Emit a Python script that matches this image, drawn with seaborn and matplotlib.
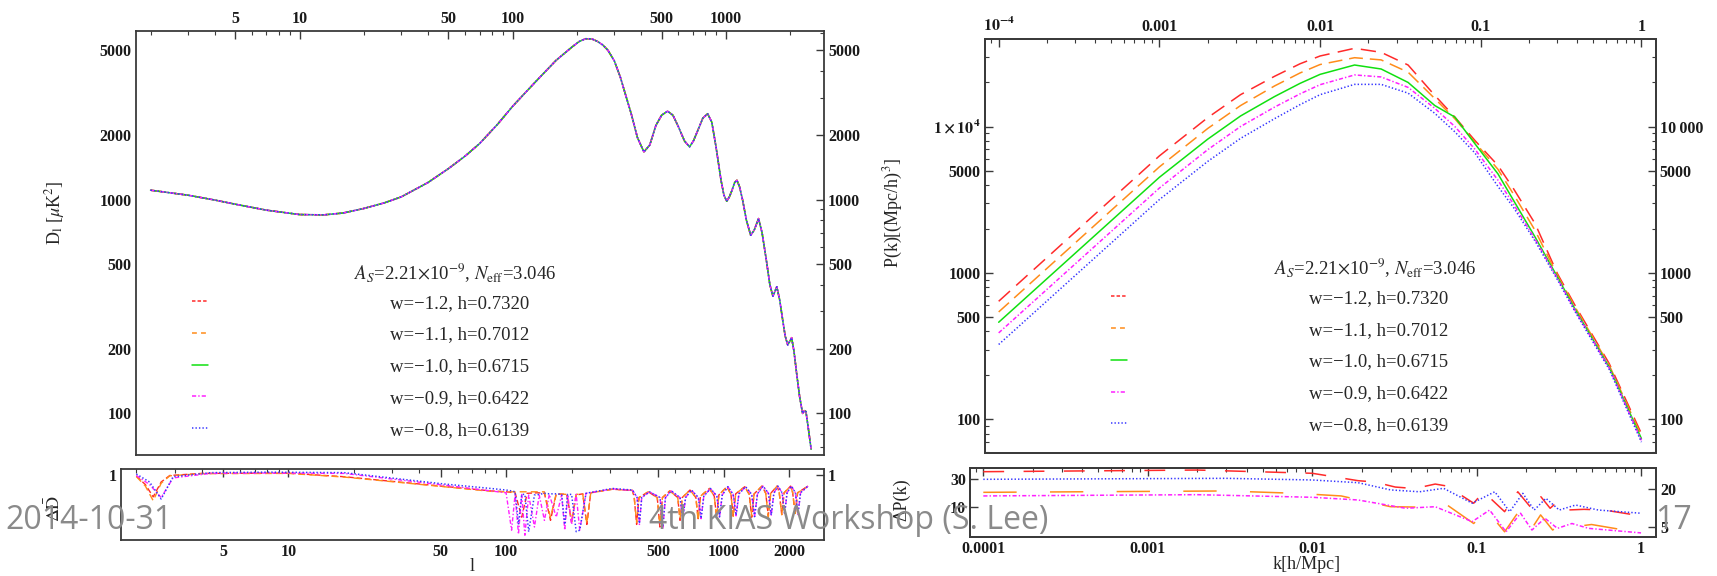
import matplotlib
matplotlib.use("Agg")
import matplotlib.pyplot as plt
import seaborn as sns
from matplotlib.lines import Line2D
from matplotlib.ticker import LogLocator, NullFormatter, NullLocator

sns.set_theme(style="white")
plt.rcParams['font.family'] = ['Liberation Serif', 'DejaVu Serif']
plt.rcParams['mathtext.fontset'] = 'stix'
plt.rcParams['lines.scale_dashes'] = False

# ---------------- data ----------------
series_labels = ["w=\u22121.2, h=0.7320", "w=\u22121.1, h=0.7012", "w=\u22121.0, h=0.6715",
                 "w=\u22120.9, h=0.6422", "w=\u22120.8, h=0.6139"]
series_colors = ["#ff2a2a", "#ff8c1a", "#10e010", "#ff20ff", "#3535ff"]

# CMB TT spectrum (all five models overlap)
ell_cmb = [2, 3, 4, 5, 7, 10, 13, 16, 20, 25, 30, 40, 50, 60, 70, 85, 100, 115, 130, 160,
           190, 205, 220, 235, 250, 265, 280, 300, 320, 340, 360, 385, 413, 440, 470, 500,
           533, 565, 600, 640, 676, 705, 740, 780, 822, 860, 900, 950, 980, 1010, 1040, 1070,
           1100, 1128, 1160, 1200, 1250, 1309, 1360, 1425, 1480, 1550, 1610, 1664, 1700,
           1735, 1790, 1850, 1900, 1953, 2000, 2037, 2090, 2150, 2220, 2293, 2340, 2378,
           2440, 2515]
dl_cmb = [1106, 1048, 995, 951, 892, 851, 848, 865, 908, 965, 1029, 1200, 1396, 1600, 1828,
          2250, 2730, 3170, 3610, 4480, 5170, 5480, 5650, 5640, 5490, 5280, 4990, 4450, 3740,
          3050, 2520, 1950, 1670, 1800, 2220, 2480, 2590, 2480, 2185, 1880, 1763, 1880, 2110,
          2400, 2520, 2300, 1763, 1231, 1050, 982, 1030, 1106, 1200, 1231, 1150, 993, 800,
          681, 720, 815, 700, 521, 400, 353, 372, 391, 340, 273, 230, 209, 218, 226, 195,
          154, 120, 100, 103, 102, 85, 68]

# relative CMB differences (lower left panel)
ell_ratio_ro = [2, 2.2, 2.39, 2.6, 2.85, 4, 10, 18, 50, 85, 100, 110, 118, 125, 140, 150, 160,
                170, 190, 200, 210, 225, 235, 245, 308, 381, 388, 398, 408, 450, 495, 509, 523,
                565, 615, 630, 645, 700, 745, 763, 782, 860, 905, 928, 950, 1035, 1080, 1106,
                1135, 1250, 1310, 1345, 1380, 1500, 1560, 1603, 1645, 1760, 1800, 1848, 1895,
                2030, 2075, 2130, 2185, 2440]
ratio_red = [0.91, 0.5, 0.21, 0.6, 0.95, 1.1, 1.12, 0.87, 0.45, 0.32, 0.30, 0.28, 0.05, 0.27,
             0.28, 0.27, 0.04, 0.26, 0.25, 0.035, 0.24, 0.26, 0.03, 0.28, 0.36, 0.33, 0.2,
             0.03, 0.2, 0.30, 0.2, 0.025, 0.2, 0.32, 0.2, 0.04, 0.2, 0.34, 0.2, 0.045, 0.22,
             0.38, 0.22, 0.05, 0.24, 0.43, 0.25, 0.055, 0.26, 0.43, 0.25, 0.05, 0.26, 0.45,
             0.27, 0.055, 0.27, 0.45, 0.28, 0.06, 0.28, 0.45, 0.28, 0.06, 0.28, 0.45]
ratio_orange = [0.88, 0.45, 0.16, 0.55, 0.93, 1.08, 1.1, 0.85, 0.44, 0.31, 0.30, 0.30, 0.30,
                0.30, 0.30, 0.30, 0.05, 0.26, 0.25, 0.04, 0.25, 0.26, 0.032, 0.28, 0.36, 0.33,
                0.2, 0.035, 0.2, 0.30, 0.2, 0.03, 0.2, 0.32, 0.2, 0.045, 0.2, 0.34, 0.2, 0.04,
                0.22, 0.38, 0.22, 0.05, 0.24, 0.43, 0.25, 0.05, 0.26, 0.43, 0.25, 0.055, 0.26,
                0.45, 0.27, 0.05, 0.27, 0.45, 0.28, 0.06, 0.28, 0.45, 0.28, 0.065, 0.28, 0.45]
ell_ratio_mb = [2, 2.3, 2.6, 2.95, 4.4, 8, 18, 52, 85, 100, 106, 110, 114, 118, 122, 127, 135,
                142, 150, 158, 170, 180, 186, 192, 200, 210, 218, 233, 308, 381, 400, 410, 420,
                456, 510, 525, 540, 574, 630, 649, 668, 710, 765, 787, 810, 870, 930, 957, 985,
                1045, 1105, 1140, 1175, 1260, 1345, 1386, 1430, 1515, 1605, 1653, 1700, 1775,
                1855, 1905, 1955, 2045, 2135, 2195, 2255, 2440]
ratio_magenta = [0.95, 0.5, 0.2, 0.8, 1.1, 1.13, 1.1, 0.48, 0.32, 0.28, 0.02, 0.25, 0.015,
                 0.25, 0.014, 0.24, 0.025, 0.24, 0.04, 0.25, 0.05, 0.24, 0.02, 0.24, 0.03,
                 0.25, 0.02, 0.27, 0.37, 0.33, 0.2, 0.03, 0.2, 0.30, 0.2, 0.022, 0.2, 0.32,
                 0.2, 0.04, 0.2, 0.34, 0.2, 0.045, 0.22, 0.38, 0.22, 0.05, 0.24, 0.43, 0.25,
                 0.055, 0.26, 0.43, 0.25, 0.05, 0.26, 0.45, 0.27, 0.055, 0.27, 0.45, 0.28,
                 0.06, 0.28, 0.45, 0.28, 0.06, 0.28, 0.45]
ratio_blue = [1.05, 0.6, 0.18, 0.87, 1.16, 1.2, 1.16, 0.52, 0.38, 0.34, 0.32, 0.3, 0.03, 0.25,
              0.25, 0.018, 0.24, 0.25, 0.27, 0.26, 0.26, 0.25, 0.03, 0.25, 0.25, 0.018, 0.02,
              0.27, 0.38, 0.34, 0.2, 0.032, 0.2, 0.30, 0.2, 0.026, 0.2, 0.32, 0.2, 0.046,
              0.2, 0.34, 0.2, 0.046, 0.22, 0.38, 0.22, 0.052, 0.24, 0.43, 0.25, 0.058, 0.26,
              0.43, 0.25, 0.052, 0.26, 0.45, 0.27, 0.058, 0.27, 0.45, 0.28, 0.066, 0.28,
              0.45, 0.28, 0.066, 0.28, 0.45]

# matter power spectrum
k_pk = [1e-4, 1e-3, 2e-3, 3.2e-3, 5.2e-3, 7.5e-3, 0.01, 0.0164, 0.024, 0.0353, 0.0518,
        0.069, 0.092, 0.128, 0.16, 0.218, 0.3, 0.39, 0.63, 1.0]
pk_red = [641, 6300, 11500, 16500, 22000, 26800, 30300, 34200, 32100, 26300, 16300, 11600,
          8030, 5420, 3760, 2170, 990, 590, 241, 80]
pk_orange = [542, 5300, 9700, 13900, 18900, 23200, 26500, 29500, 28500, 23500, 15500, 11300,
             7800, 5100, 3450, 1950, 965, 575, 235, 77]
pk_green = [461, 4500, 8200, 11800, 16000, 19700, 22700, 26300, 24700, 20000, 13900, 11600,
            7630, 4750, 3130, 1757, 940, 556, 228, 74]
pk_magenta = [390, 3800, 6950, 10000, 13550, 16700, 19300, 22500, 21800, 18500, 13300, 10000,
              7000, 4300, 2950, 1700, 920, 545, 225, 72]
pk_blue = [325, 3170, 5780, 8300, 11300, 14100, 16500, 19400, 19400, 16900, 12300, 9200,
           6600, 3900, 2800, 1650, 900, 535, 220, 70]

# relative P(k) differences (lower right panel)
k_ratio_red = [1e-4, 0.002, 0.01, 0.019, 0.024, 0.032, 0.042, 0.056, 0.066, 0.096, 0.11,
               0.148, 0.178, 0.22, 0.246, 0.28, 0.31, 0.35, 0.45, 0.6, 1.0]
dpk_red = [40.7, 43.5, 38.2, 28.4, 26.9, 22, 20.7, 24.8, 22.9, 11.5, 18.2, 8.2, 18.2, 8.75,
           14.9, 9.4, 12.2, 8.75, 9.0, 8.75, 6.9]
k_ratio_orange = [1e-4, 0.003, 0.008, 0.015, 0.03, 0.05, 0.065, 0.096, 0.115, 0.148, 0.18,
                  0.21, 0.245, 0.29, 0.35, 0.42, 0.5, 1.0]
dpk_orange = [17.8, 18.8, 17.1, 15.4, 10, 9.8, 11.1, 5.1, 8.75, 3.66, 8.2, 3.66, 7.2, 3.93,
              5.5, 4.6, 4.9, 3.5]
k_ratio_magenta = [1e-4, 0.002, 0.01, 0.019, 0.037, 0.056, 0.094, 0.12, 0.151, 0.185, 0.217,
                   0.26, 0.31, 0.38, 0.48, 1.0]
dpk_magenta = [15.4, 16.2, 14.6, 13.1, 9.4, 10, 5.5, 8.75, 3.66, 7.7, 3.93, 6.3, 4.2, 5.1,
               4.2, 3.5]
k_ratio_blue = [1e-4, 0.003, 0.01, 0.019, 0.03, 0.045, 0.063, 0.094, 0.129, 0.159, 0.191,
                0.224, 0.264, 0.318, 0.4, 0.55, 1.0]
dpk_blue = [30, 31.2, 29.2, 26.2, 19.6, 18.2, 20.9, 11.5, 18.2, 8.2, 17.1, 8.75, 14, 8.75,
            10.7, 8.75, 7.7]

cmb_ticks = [5, 10, 50, 100, 500, 1000]
cmb_ticks_low = [5, 10, 50, 100, 500, 1000, 2000]
dl_ticks = [100, 200, 500, 1000, 2000, 5000]
k_ticks = [1e-4, 1e-3, 1e-2, 0.1, 1]
k_top_labels = [r"$\mathbf{10^{-4}}$", "0.001", "0.01", "0.1", "1"]
k_bottom_labels = ["0.0001", "0.001", "0.01", "0.1", "1"]
pk_ticks = [100, 500, 1000, 5000, 10000]
pk_left_labels = ["100", "500", "1000", "5000", r"$\mathbf{1\times10^{4}}$"]
pk_right_labels = ["100", "500", "1000", "5000", "10\u2009000"]
title_text = r"$A_S$=2.21$\times$10$^{-9}$, $N_{\mathrm{eff}}$=3.046"

# ---------------- styles ----------------
main_styles = [(0, (11, 6)), (0, (10, 5)), "-", (0, (3, 1.5, 1, 1.5)), (0, (1, 1.5))]
low_left_styles = [(0, (4, 2)), (0, (5, 3)), "-", (0, (3, 1.5, 1, 1.5)), (0, (1, 1.5))]
low_right_styles = [(0, (15, 14)), (0, (24, 24)), "-", (0, (3, 1.5, 1, 1.5)), (0, (1, 1.5))]
legend_styles = [(0, (2.5, 1.5)), (0, (3.5, 3)), "-", (0, (3, 1.5, 1, 1.5)), (0, (1, 1.5))]
FRAME = "#3a3a3a"
TICKFS = 11.5
LEGFS = 13.5

W, H = 1717, 576
fig = plt.figure(figsize=(W / 100, H / 100), dpi=100)


def px_axes(x0, y0, x1, y1):
    return fig.add_axes([x0 / W, 1 - y1 / H, (x1 - x0) / W, (y1 - y0) / H])


def style(ax):
    for sp in ax.spines.values():
        sp.set_color(FRAME)
        sp.set_linewidth(1.3)
    ax.tick_params(which="both", direction="in", colors=FRAME, labelcolor="#1a1a1a",
                   labelsize=TICKFS, pad=3)
    ax.tick_params(which="major", length=6, width=1.0)
    ax.tick_params(which="minor", length=3, width=0.8)


def draw(ax, x, y, color, ls, lw=1.1, alpha=1.0):
    sns.lineplot(x=x, y=y, ax=ax, color=color, linestyle=ls, linewidth=lw,
                 estimator=None, sort=False, legend=False, alpha=alpha)


def add_legend(ax, anchor):
    handles = [Line2D([], [], color=c, lw=1.1, linestyle=s)
               for c, s in zip(series_colors, legend_styles)]
    ax.legend(handles, series_labels, loc="upper left", bbox_to_anchor=anchor,
              frameon=False, fontsize=LEGFS, handlelength=0.85, handletextpad=9.7,
              labelspacing=0.78, borderpad=0, borderaxespad=0)


# ---------------- left main: CMB ----------------
axL = px_axes(135.5, 31, 824, 455.3)
axL.set_xscale("log")
axL.set_yscale("log")
for c, s in zip(series_colors, main_styles):
    draw(axL, ell_cmb, dl_cmb, c, s)
axL.set_xlim(1.7, 2890)
axL.set_ylim(63.7, 6140)
axL.set_xticks(cmb_ticks, [str(t) for t in cmb_ticks])
axL.set_yticks(dl_ticks, [str(t) for t in dl_ticks])
axL.xaxis.set_minor_locator(LogLocator(subs=range(2, 10)))
axL.yaxis.set_minor_locator(LogLocator(subs=range(2, 10)))
axL.xaxis.set_minor_formatter(NullFormatter())
axL.yaxis.set_minor_formatter(NullFormatter())
style(axL)
axL.tick_params(which="both", top=True, right=True, labeltop=True, labelbottom=False,
                labelright=True)
axL.set_xlabel("")
axL.set_ylabel(r"D$_{\mathrm{l}}$ [$\mu$K$^{2}$]", fontsize=13)
axL.yaxis.set_label_coords(-0.1, 0.571)
axL.text(0.464, 0.429, title_text, transform=axL.transAxes, ha="center", va="center",
         fontsize=LEGFS)
add_legend(axL, (0.082, 0.379))

# ---------------- left lower: CMB ratios ----------------
axLl = px_axes(121, 469, 824, 540)
axLl.set_xscale("log")
axLl.set_yscale("log")
draw(axLl, ell_ratio_ro, ratio_red, series_colors[0], low_left_styles[0], lw=1.0)
draw(axLl, ell_ratio_ro, ratio_orange, series_colors[1], low_left_styles[1], lw=1.0)
draw(axLl, ell_ratio_mb, ratio_magenta, series_colors[3], low_left_styles[3], lw=1.0)
draw(axLl, ell_ratio_mb, ratio_blue, series_colors[4], low_left_styles[4], lw=1.1)
axLl.set_xlim(1.7, 2890)
axLl.set_ylim(0.01, 1.5)
axLl.set_xticks(cmb_ticks_low, [str(t) for t in cmb_ticks_low])
axLl.set_yticks([1], ["1"])
axLl.xaxis.set_minor_locator(LogLocator(subs=range(2, 10)))
axLl.xaxis.set_minor_formatter(NullFormatter())
axLl.yaxis.set_minor_locator(NullLocator())
style(axLl)
axLl.tick_params(which="both", top=True, right=True, labelright=True)
axLl.set_xlabel("l", fontsize=13, labelpad=0)
axLl.xaxis.set_label_coords(0.5, -0.254)
axLl.set_ylabel(r"$\Delta\bar{\mathrm{D}}$", fontsize=13)
axLl.yaxis.set_label_coords(-0.081, 0.45)

# ---------------- right main: P(k) ----------------
axR = px_axes(985, 39.3, 1655.7, 452.7)
axR.set_xscale("log")
axR.set_yscale("log")
for yv, c, s in zip([pk_red, pk_orange, pk_green, pk_magenta, pk_blue], series_colors,
                    main_styles):
    draw(axR, k_pk, yv, c, s)
axR.set_xlim(8.22e-5, 1.227)
axR.set_ylim(59.3, 39400)
axR.set_xticks(k_ticks, k_top_labels)
axR.set_yticks(pk_ticks, pk_left_labels)
axR.xaxis.set_minor_locator(LogLocator(subs=range(2, 10)))
axR.yaxis.set_minor_locator(LogLocator(subs=range(2, 10)))
axR.xaxis.set_minor_formatter(NullFormatter())
axR.yaxis.set_minor_formatter(NullFormatter())
style(axR)
axR.tick_params(which="both", top=True, right=False, labeltop=True, labelbottom=False)
axR2 = axR.twinx()
axR2.set_yscale("log")
axR2.set_ylim(59.3, 39400)
axR2.set_yticks(pk_ticks, pk_right_labels)
axR2.yaxis.set_minor_locator(LogLocator(subs=range(2, 10)))
axR2.yaxis.set_minor_formatter(NullFormatter())
style(axR2)
axR.set_xlabel("")
axR.set_ylabel(r"P(k)[(Mpc/h)$^{3}$]", fontsize=13)
axR.yaxis.set_label_coords(-0.119, 0.58)
axR.text(0.581, 0.445, title_text, transform=axR.transAxes, ha="center", va="center",
         fontsize=LEGFS)
add_legend(axR, (0.188, 0.394))

# ---------------- right lower: P(k) ratios ----------------
axRl = px_axes(970, 468, 1656, 537)
axRl.set_xscale("log")
axRl.set_yscale("log")
draw(axRl, k_ratio_red, dpk_red, series_colors[0], low_right_styles[0])
draw(axRl, k_ratio_orange, dpk_orange, series_colors[1], low_right_styles[1])
draw(axRl, k_ratio_magenta, dpk_magenta, series_colors[3], low_right_styles[3])
draw(axRl, k_ratio_blue, dpk_blue, series_colors[4], low_right_styles[4])
axRl.set_xlim(8.3e-5, 1.233)
axRl.set_ylim(2.97, 47.2)
axRl.set_xticks(k_ticks, k_bottom_labels)
axRl.set_yticks([10, 30], ["10", "30"])
axRl.xaxis.set_minor_locator(LogLocator(subs=range(2, 10)))
axRl.xaxis.set_minor_formatter(NullFormatter())
axRl.yaxis.set_minor_locator(NullLocator())
axRl.yaxis.set_minor_formatter(NullFormatter())
style(axRl)
axRl.tick_params(which="both", top=True, right=False)
axRl2 = axRl.twinx()
axRl2.set_yscale("log")
axRl2.set_ylim(3.45, 44.2)
axRl2.set_yticks([5, 20], ["5", "20"])
axRl2.yaxis.set_minor_locator(NullLocator())
axRl2.yaxis.set_minor_formatter(NullFormatter())
style(axRl2)
axRl.set_xlabel("k[h/Mpc]", fontsize=13, labelpad=0)
axRl.xaxis.set_label_coords(0.491, -0.275)
axRl.set_ylabel("\u0394P(k)", fontsize=13)
axRl.yaxis.set_label_coords(-0.087, 0.54)

# bold tick labels
for ax in [axL, axLl, axR, axR2, axRl, axRl2]:
    for t in ax.xaxis.get_major_ticks() + ax.yaxis.get_major_ticks():
        t.label1.set_fontweight("bold")
        t.label2.set_fontweight("bold")

# ---------------- slide footer ----------------
foot = dict(fontsize=23, color="#8a8a8a", family=["Open Sans", "DejaVu Sans"],
            va="baseline")
fig.text(5 / W, 1 - 529 / H, "2014-10-31", ha="left", **foot)
fig.text(649 / W, 1 - 529 / H, "4th KIAS Workshop (S. Lee)", ha="left", **foot)
fig.text(1692 / W, 1 - 529 / H, "17", ha="right", **foot)

fig.savefig("out.png", dpi=100)
